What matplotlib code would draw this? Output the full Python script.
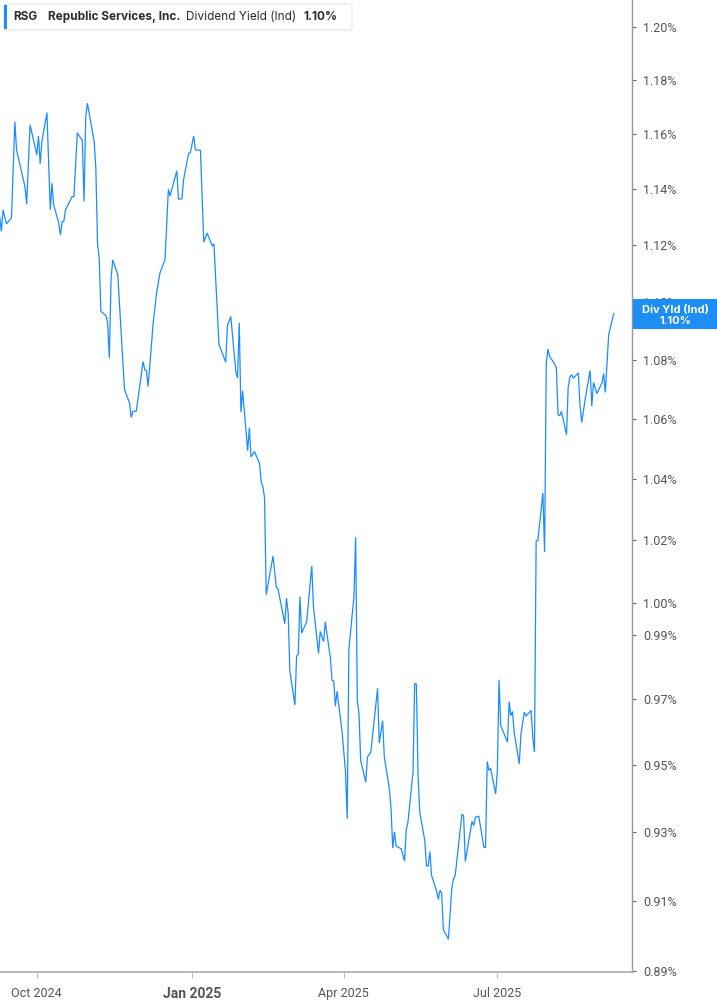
import matplotlib
matplotlib.use("Agg")
import matplotlib.pyplot as plt
import matplotlib.dates as mdates
from matplotlib.patches import Rectangle, FancyBboxPatch
from matplotlib.ticker import FixedLocator, NullLocator
import pandas as pd
from datetime import datetime, timedelta

# ---------------- data ----------------
dates = [
    "2024-09-09", "2024-09-10", "2024-09-11", "2024-09-13", "2024-09-16", "2024-09-18", "2024-09-19",
    "2024-09-24", "2024-09-25", "2024-09-27", "2024-10-01", "2024-10-02", "2024-10-03", "2024-10-04",
    "2024-10-07", "2024-10-09", "2024-10-10", "2024-10-11", "2024-10-14", "2024-10-15", "2024-10-16",
    "2024-10-17", "2024-10-18", "2024-10-22", "2024-10-23", "2024-10-25", "2024-10-28", "2024-10-29",
    "2024-10-30", "2024-10-31", "2024-11-04", "2024-11-05", "2024-11-06", "2024-11-07", "2024-11-08",
    "2024-11-11", "2024-11-12", "2024-11-13", "2024-11-14", "2024-11-15", "2024-11-18", "2024-11-22",
    "2024-11-25", "2024-11-26", "2024-11-27", "2024-11-29", "2024-12-03", "2024-12-04", "2024-12-05",
    "2024-12-06", "2024-12-09", "2024-12-11", "2024-12-13", "2024-12-16", "2024-12-18", "2024-12-19",
    "2024-12-23", "2024-12-24", "2024-12-26", "2024-12-27", "2024-12-30", "2024-12-31",
    "2025-01-02", "2025-01-03", "2025-01-06", "2025-01-08", "2025-01-10", "2025-01-13", "2025-01-14",
    "2025-01-17", "2025-01-21", "2025-01-22", "2025-01-24", "2025-01-27", "2025-01-28", "2025-01-29",
    "2025-01-30", "2025-01-31", "2025-02-03", "2025-02-04", "2025-02-05", "2025-02-07", "2025-02-10",
    "2025-02-11", "2025-02-12", "2025-02-13", "2025-02-14", "2025-02-18", "2025-02-20", "2025-02-21",
    "2025-02-25", "2025-02-26", "2025-02-27", "2025-02-28", "2025-03-03", "2025-03-04", "2025-03-05",
    "2025-03-06", "2025-03-07", "2025-03-10", "2025-03-13", "2025-03-14", "2025-03-17", "2025-03-18",
    "2025-03-20", "2025-03-21", "2025-03-24", "2025-03-25", "2025-03-26", "2025-03-27", "2025-03-28",
    "2025-03-31", "2025-04-02", "2025-04-03", "2025-04-04", "2025-04-07", "2025-04-08", "2025-04-09",
    "2025-04-10", "2025-04-11", "2025-04-14", "2025-04-15", "2025-04-17", "2025-04-21", "2025-04-22",
    "2025-04-24", "2025-04-25", "2025-04-28", "2025-04-29", "2025-04-30", "2025-05-01", "2025-05-02",
    "2025-05-05", "2025-05-07", "2025-05-08", "2025-05-09", "2025-05-12", "2025-05-13", "2025-05-14",
    "2025-05-15", "2025-05-16", "2025-05-19", "2025-05-20", "2025-05-21", "2025-05-22", "2025-05-23",
    "2025-05-26", "2025-05-27", "2025-05-28", "2025-05-29", "2025-05-30", "2025-06-02", "2025-06-04",
    "2025-06-05", "2025-06-06", "2025-06-10", "2025-06-11", "2025-06-12", "2025-06-16", "2025-06-17",
    "2025-06-18", "2025-06-20", "2025-06-23", "2025-06-24", "2025-06-25", "2025-06-26", "2025-06-27",
    "2025-06-30", "2025-07-01", "2025-07-02", "2025-07-03", "2025-07-07", "2025-07-08", "2025-07-09",
    "2025-07-10", "2025-07-11", "2025-07-14", "2025-07-15", "2025-07-17", "2025-07-18", "2025-07-21",
    "2025-07-22", "2025-07-23", "2025-07-24", "2025-07-25", "2025-07-28", "2025-07-29", "2025-07-30",
    "2025-07-31", "2025-08-01", "2025-08-04", "2025-08-05", "2025-08-06", "2025-08-07", "2025-08-08",
    "2025-08-11", "2025-08-12", "2025-08-13", "2025-08-14", "2025-08-15", "2025-08-18", "2025-08-19",
    "2025-08-20", "2025-08-22", "2025-08-25", "2025-08-26", "2025-08-27", "2025-08-29", "2025-09-01",
    "2025-09-02", "2025-09-03", "2025-09-05", "2025-09-08",
]

div_yield = [
    1.1301, 1.1248, 1.1325, 1.1275, 1.1296, 1.1646, 1.1542,
    1.1408, 1.1346, 1.1634, 1.1524, 1.1593, 1.1491, 1.1572,
    1.1679, 1.1325, 1.1421, 1.1343, 1.1278, 1.1236, 1.1283,
    1.1283, 1.1325, 1.1373, 1.1372, 1.1605, 1.1576, 1.1355,
    1.1664, 1.1714, 1.1572, 1.1475, 1.1206, 1.1153, 1.0967,
    1.0952, 1.0927, 1.0806, 1.1077, 1.1147, 1.1095, 1.0698,
    1.0653, 1.0604, 1.0625, 1.0626, 1.0794, 1.0766, 1.0763,
    1.0709, 1.0928, 1.1030, 1.1101, 1.1147, 1.1399, 1.1375,
    1.1466, 1.1363, 1.1365, 1.1433, 1.1530, 1.1532,
    1.1593, 1.1542, 1.1541, 1.1210, 1.1242, 1.1196, 1.1204,
    1.0852, 1.0792, 1.0918, 1.0949, 1.0758, 1.0738, 1.0927,
    1.0623, 1.0695, 1.0493, 1.0570, 1.0473, 1.0491, 1.0452,
    1.0391, 1.0375, 1.0338, 1.0026, 1.0149, 1.0050, 1.0044,
    0.9934, 1.0015, 0.9968, 0.9787, 0.9682, 0.9833, 0.9838,
    1.0020, 0.9905, 0.9941, 1.0117, 0.9988, 0.9841, 0.9910,
    0.9878, 0.9940, 0.9828, 0.9758, 0.9756, 0.9678, 0.9724,
    0.9599, 0.9478, 0.9339, 0.9854, 1.0020, 1.0210, 0.9695,
    0.9655, 0.9513, 0.9448, 0.9523, 0.9538, 0.9733, 0.9566,
    0.9634, 0.9523, 0.9428, 0.9368, 0.9253, 0.9301, 0.9259,
    0.9251, 0.9215, 0.9307, 0.9329, 0.9478, 0.9748, 0.9746,
    0.9468, 0.9359, 0.9275, 0.9201, 0.9200, 0.9243, 0.9173,
    0.9128, 0.9104, 0.9130, 0.9122, 0.9017, 0.8990, 0.9135,
    0.9164, 0.9172, 0.9353, 0.9348, 0.9214, 0.9332, 0.9319,
    0.9344, 0.9347, 0.9256, 0.9254, 0.9510, 0.9483, 0.9490,
    0.9413, 0.9483, 0.9759, 0.9619, 0.9569, 0.9692, 0.9649,
    0.9662, 0.9597, 0.9503, 0.9594, 0.9660, 0.9648, 0.9665,
    0.9584, 0.9539, 1.0198, 1.0199, 1.0354, 1.0162, 1.0789,
    1.0837, 1.0811, 1.0786, 1.0772, 1.0614, 1.0610, 1.0625,
    1.0547, 1.0707, 1.0741, 1.0749, 1.0737, 1.0755, 1.0644,
    1.0588, 1.0664, 1.0763, 1.0642, 1.0723, 1.0685, 1.0721,
    1.0753, 1.0689, 1.0886, 1.0959,
]

y_tick_values = [0.89, 0.91, 0.93, 0.95, 0.97, 0.99, 1.00, 1.02, 1.04, 1.06,
                 1.08, 1.10, 1.12, 1.14, 1.16, 1.18, 1.20]
y_tick_labels = ["0.89%", "0.91%", "0.93%", "0.95%", "0.97%", "0.99%", "1.00%", "1.02%",
                 "1.04%", "1.06%", "1.08%", "1.10%", "1.12%", "1.14%", "1.16%", "1.18%", "1.20%"]
x_tick_dates = ["2024-10-01", "2025-01-01", "2025-04-01", "2025-07-01"]
x_tick_labels = ["Oct 2024", "Jan 2025", "Apr 2025", "Jul 2025"]

ticker_sym = "RSG"
company = "Republic Services, Inc."
metric = "Dividend Yield (Ind)"
last_label = "1.10%"
badge_title = "Div Yld (Ind)"

# ---------------- figure ----------------
W, H = 717, 1005
fig = plt.figure(figsize=(W / 100, H / 100), dpi=100)
fig.patch.set_facecolor("white")

ax_left, ax_right, ax_top, ax_bottom = 0, 632, 0, 972
ax = fig.add_axes([ax_left / W, 1 - ax_bottom / H, (ax_right - ax_left) / W, (ax_bottom - ax_top) / H])

x = pd.to_datetime(dates)
line_color = "#1a8cff"
ax.plot(x, div_yield, color=line_color, lw=0.9, solid_joinstyle="miter")

ax.set_yscale("log")
ax.set_ylim(0.8897, 1.2103)
jan1 = datetime(2025, 1, 1)
ax.set_xlim(jan1 - timedelta(days=113.81), jan1 + timedelta(days=260.82))

ax.yaxis.set_major_locator(FixedLocator(y_tick_values))
ax.yaxis.set_minor_locator(NullLocator())
ax.set_yticklabels(y_tick_labels)
ax.yaxis.tick_right()

ax.set_xticks(pd.to_datetime(x_tick_dates))
ax.set_xticklabels(x_tick_labels)
ax.xaxis.set_minor_locator(NullLocator())

font_ticks = ["Liberation Sans Narrow", "Roboto", "DejaVu Sans"]
for lab in ax.get_xticklabels() + ax.get_yticklabels():
    lab.set_family(font_ticks)
    lab.set_fontsize(9)
    lab.set_color("#555555")
for lab in ax.get_xticklabels():
    if lab.get_text() == "Jan 2025":
        lab.set_fontweight("bold")
        lab.set_fontsize(10)

ax.tick_params(axis="y", direction="out", length=3, width=0.8, color="#666666", pad=5)
ax.tick_params(axis="x", direction="out", length=4, width=0.8, color="#bbbbbb", pad=7)

for s in ["top", "left"]:
    ax.spines[s].set_visible(False)
ax.spines["right"].set_color("#999999")
ax.spines["bottom"].set_color("#aaaaaa")
ax.spines["bottom"].set_linewidth(1.2)
ax.spines["right"].set_linewidth(1.0)
ax.grid(False)


def fx(px):
    return px / W


def fy(py):
    return 1 - py / H


# top-left legend box
box = FancyBboxPatch((fx(4), fy(30)), fx(352) - fx(4), fy(4) - fy(30),
                     boxstyle="round,pad=0,rounding_size=0.003",
                     transform=fig.transFigure, facecolor="white",
                     edgecolor="#e3e3e3", linewidth=0.8, zorder=5)
fig.patches.append(box)
fig.patches.append(Rectangle((fx(3.5), fy(29)), fx(3), fy(5) - fy(29),
                             transform=fig.transFigure, facecolor=line_color,
                             edgecolor="none", zorder=6))
lf = ["Inter", "Roboto", "DejaVu Sans"]
ty = fy(17)
fig.text(fx(13), ty, ticker_sym, family=lf, fontsize=8.5, fontweight="bold",
         color="#2b2b2b", va="center", ha="left", zorder=7)
fig.text(fx(48), ty, company, family=lf, fontsize=8.5, fontweight="bold",
         color="#2b2b2b", va="center", ha="left", zorder=7)
fig.text(fx(186), ty, metric, family=lf, fontsize=8.5, fontweight="normal",
         color="#2b2b2b", va="center", ha="left", zorder=7)
fig.text(fx(303), ty, last_label, family=lf, fontsize=8.5, fontweight="bold",
         color="#2b2b2b", va="center", ha="left", zorder=7)

# right value badge
fig.patches.append(Rectangle((fx(633), fy(329)), fx(717) - fx(633), fy(299.5) - fy(329),
                             transform=fig.transFigure, facecolor="#1e8ef7",
                             edgecolor="none", zorder=8))
fig.text(fx(675), fy(309.5), badge_title, family=lf, fontsize=8, fontweight="bold",
         color="white", va="center", ha="center", zorder=9)
fig.text(fx(675), fy(320.5), last_label, family=lf, fontsize=8, fontweight="bold",
         color="white", va="center", ha="center", zorder=9)

fig.savefig("out.png", dpi=100, facecolor="white")
